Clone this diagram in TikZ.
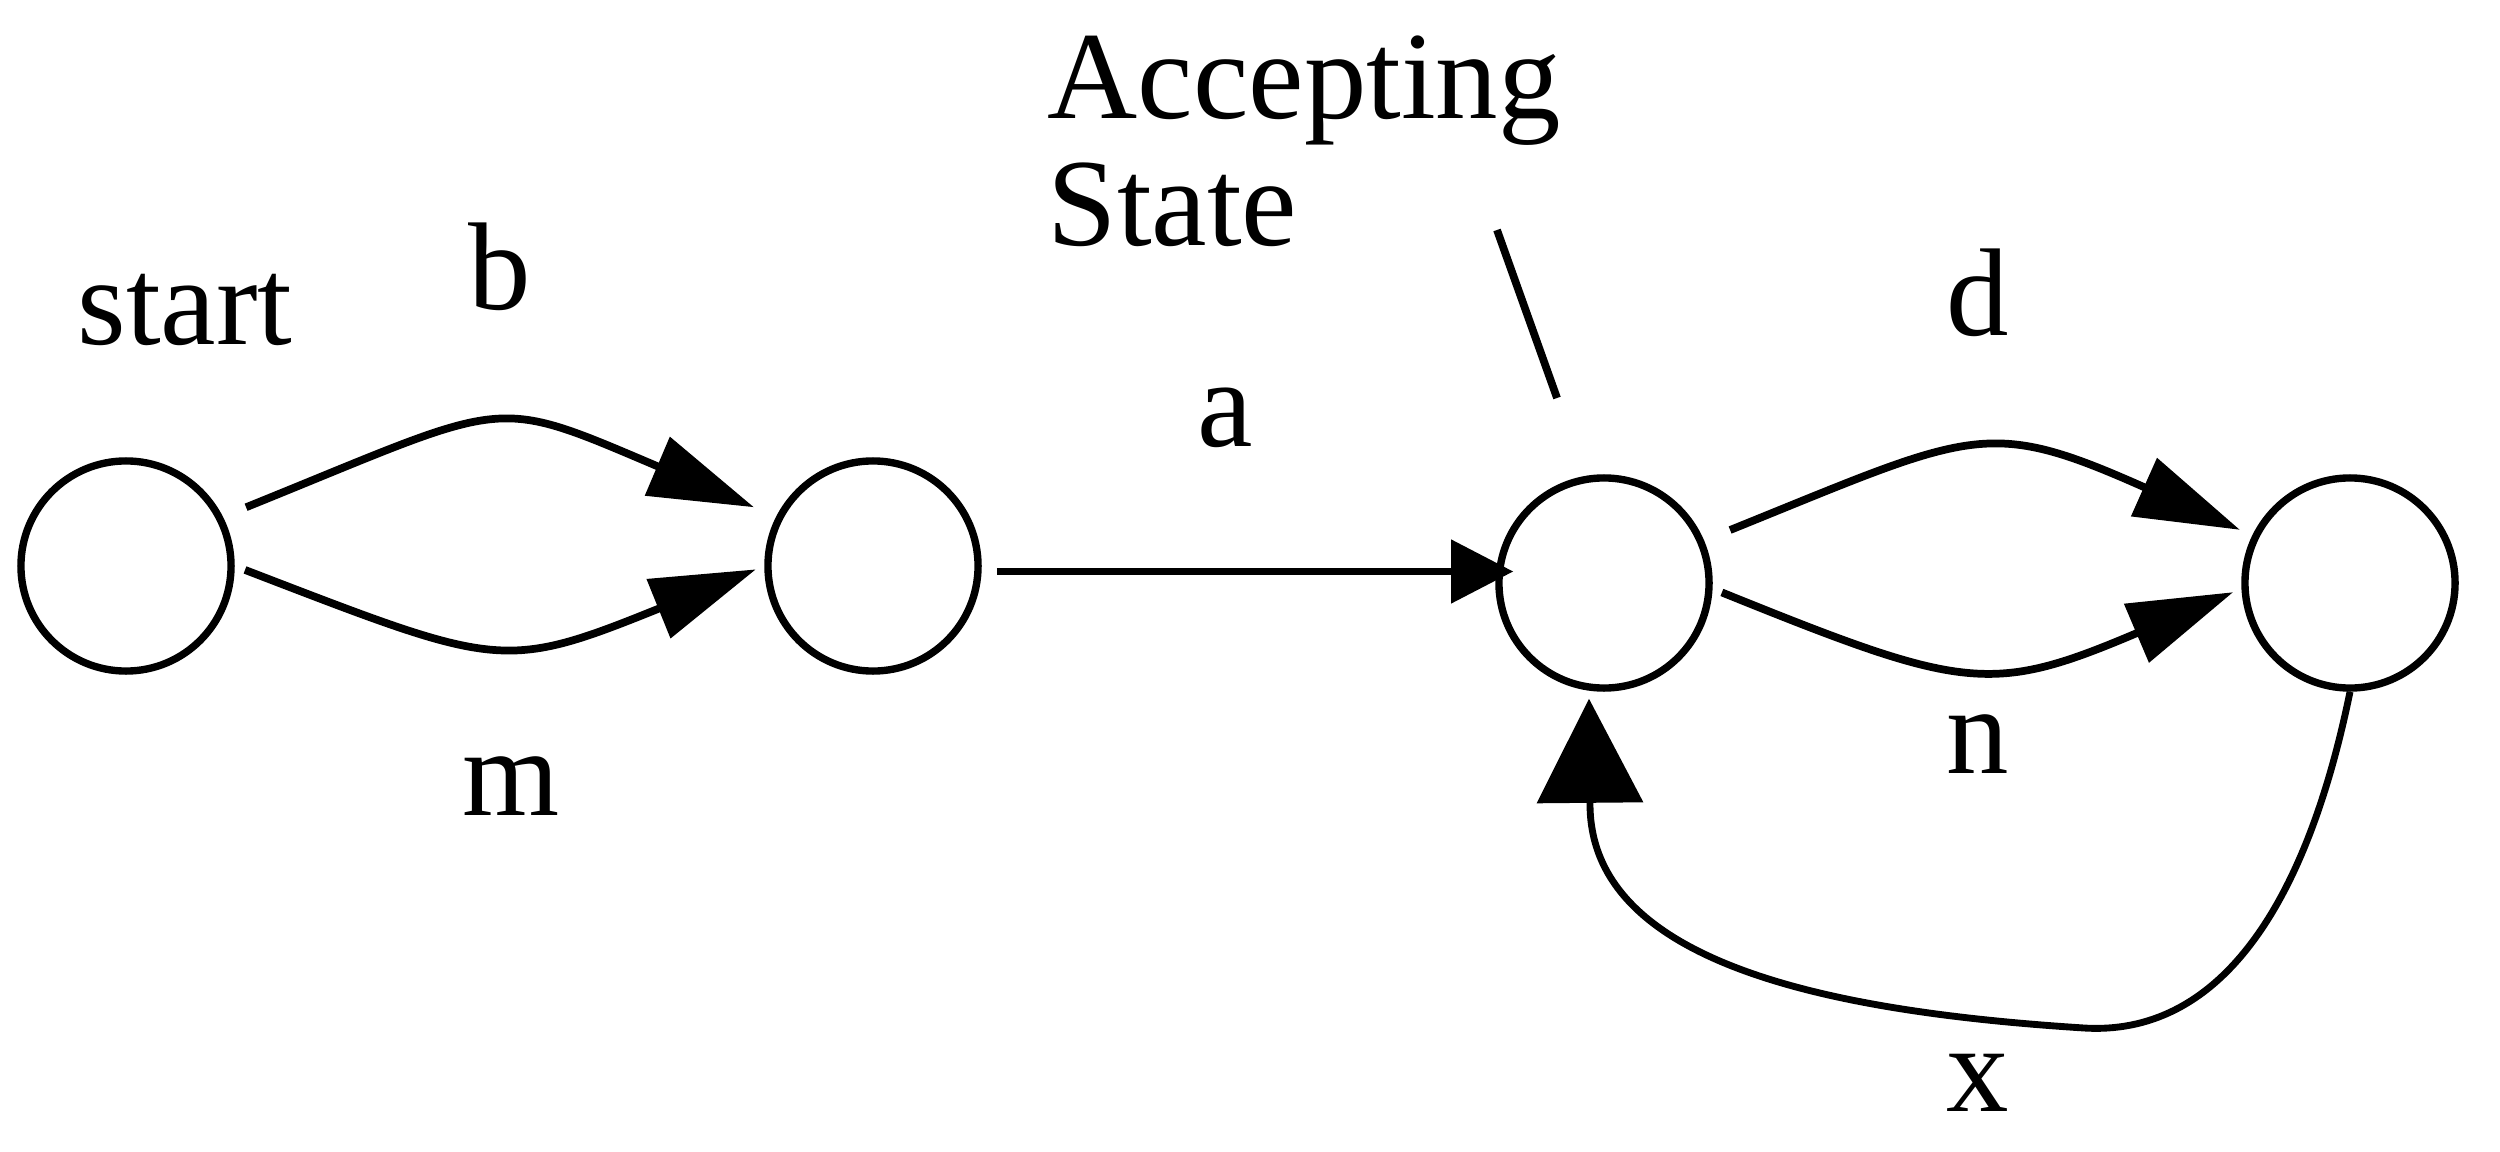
\documentclass[tikz,border=0pt]{standalone}
\usepackage{fontspec}
\setmainfont{Liberation Serif}
\usetikzlibrary{arrows.meta}

\begin{document}
\begin{tikzpicture}[x=0.01cm, y=-0.01cm,
statenode/.style={circle, draw=black, fill=white, line width=2.1pt, minimum size=2.1cm, inner sep=0pt},
edgeline/.style={line width=2.2pt, -{Triangle[length=1.05cm, width=0.62cm]}},
edgelabel/.style={inner sep=0pt, anchor=base, font=\fontsize{35.5}{36}\selectfont}]
\useasboundingbox (0,0) rectangle (2500,1152);

\node[statenode] (q0) at (126,566) {};
\node[statenode] (q1) at (873,566) {};
\node[statenode] (q2) at (1604,583) {};
\node[statenode] (q3) at (2350,583) {};

\node[edgelabel] (lstart) at (185,345) {start};
\node[edgelabel] (lb) at (500,310) {b};
\node[edgelabel] (lm) at (511,815) {m};
\node[edgelabel] (la) at (1225,446) {a};
\node[edgelabel] (ld) at (1978,336) {d};
\node[edgelabel] (ln) at (1978,773) {n};
\node[edgelabel] (lx) at (1978,1111) {x};
\node[edgelabel, anchor=base west, align=left] (lacc) at (1047,245.5) {Accepting\\State};

\coordinate (acc1) at (1497,230);
\coordinate (acc2) at (1557,398);
\draw[line width=2.2pt] (acc1) -- (acc2);

\draw[edgeline, shorten <=0.25cm, shorten >=0.24cm] (q0.27) to[out=22, in=157, looseness=1.45] (q1.153);
\draw[edgeline, shorten <=0.11cm, shorten >=0.09cm] (q0.0) to[out=-21, in=202, looseness=1.37] (q1.180);
\draw[edgeline, -{Triangle[length=0.62cm, width=0.62cm]}] ([shift={(15,5.5)}]q1.east) -- ([shift={(18,-11.5)}]q2.west);
\draw[edgeline, shorten <=0.28cm, shorten >=0.135cm] (q2.23) to[out=22, in=156, looseness=1.36] (q3.154);
\draw[edgeline, shorten <=0.10cm, shorten >=0.09cm] (q2.-3) to[out=-22, in=203, looseness=1.32] (q3.183);
\draw[edgeline, line width=1.95pt, -{Triangle[length=1.04cm, width=1.05cm]}] (q3.south) .. controls (2304,916) and (2214,1036) .. (2084,1028) .. controls (1834,1012) and (1591,965) .. (1590,805) -- ([shift={(-15,7)}]q2.south);
\end{tikzpicture}
\end{document}
